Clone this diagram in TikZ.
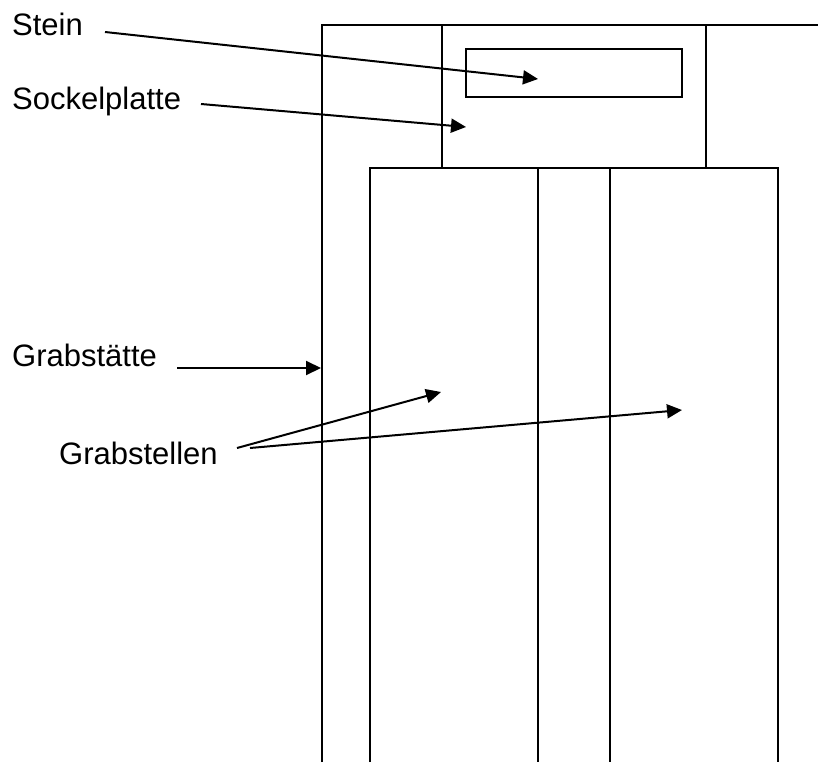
\documentclass[tikz,border=0pt]{standalone}
\usepackage{fontspec}
\setmainfont{Liberation Sans}
\usetikzlibrary{arrows.meta}
\begin{document}
\begin{tikzpicture}[x=1pt,y=-1pt,
  outline/.style={draw=black,line width=2pt},
  lbl/.style={anchor=base west,inner sep=0pt,font=\fontsize{31}{36}\selectfont},
  pointer/.style={draw=black,line width=2pt,-{Triangle[length=15pt,width=14pt]}}]
\useasboundingbox (0,0) rectangle (818,762);

% grave plot outline
\draw[outline] (322,762) -- (322,25) -- (818,25);
% base plate and stone
\draw[outline] (442,25) rectangle (706,168);
\draw[outline] (466,49) rectangle (682,97);
% burial places
\draw[outline] (370,762) -- (370,168) -- (778,168) -- (778,762);
\draw[outline] (538,168) -- (538,762);
\draw[outline] (610,168) -- (610,762);

% labels
\node[lbl] (stein) at (12,36) {Stein};
\node[lbl] (sockel) at (12,110) {Sockelplatte};
\node[lbl] (staette) at (12,366) {Grabstätte};
\node[lbl] (stellen) at (59,464) {Grabstellen};

% pointer ends
\coordinate (steinA) at (105,32);
\coordinate (steinB) at (538,79);
\coordinate (sockelA) at (201,104);
\coordinate (sockelB) at (466,127);
\coordinate (staetteA) at (177,368);
\coordinate (staetteB) at (321,368);
\coordinate (stellenA) at (237,448);
\coordinate (stellenB) at (441,392);
\coordinate (stellenC) at (250,448);
\coordinate (stellenD) at (682,410);

\draw[pointer] (steinA) -- (steinB);
\draw[pointer] (sockelA) -- (sockelB);
\draw[pointer] (staetteA) -- (staetteB);
\draw[pointer] (stellenA) -- (stellenB);
\draw[pointer] (stellenC) -- (stellenD);
\end{tikzpicture}
\end{document}
